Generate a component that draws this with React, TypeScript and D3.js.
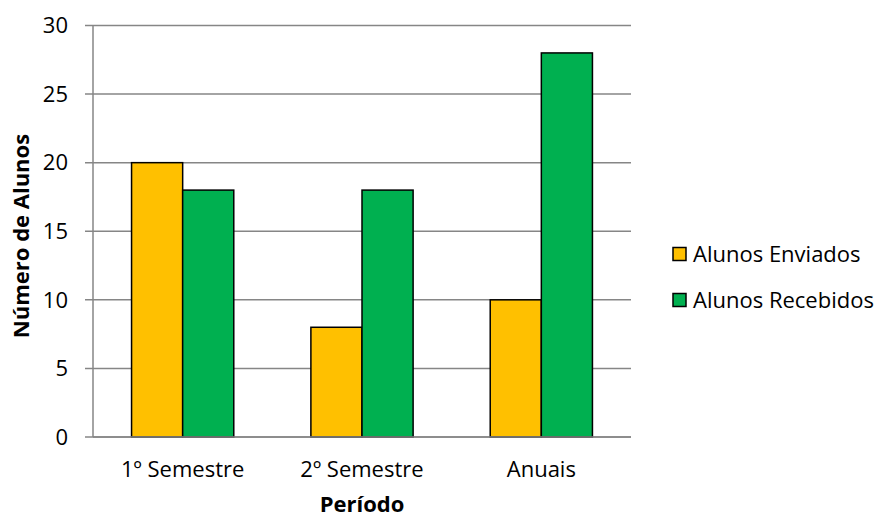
import React from "react";
import * as d3 from "d3";

const categories = ["1º Semestre", "2º Semestre", "Anuais"];
const seriesNames = ["Alunos Enviados", "Alunos Recebidos"];
const enviados = [20, 8, 10];
const recebidos = [18, 18, 28];
const yTicks = [0, 5, 10, 15, 20, 25, 30];
const colors = ["#FFC000", "#00B050"];

const W = 880;
const H = 519;
const left = 93;
const right = 631;
const top = 25.5;
const bottom = 437;
const FONT = "Open Sans, sans-serif";
const FS = 22;

export default function App() {
  const x = d3.scaleBand<string>().domain(categories).range([left, right]).paddingInner(0.43).paddingOuter(0.215);
  const xs = d3.scaleBand<string>().domain(seriesNames).range([0, x.bandwidth()]);
  const y = d3.scaleLinear().domain([0, 30]).range([bottom, top]);
  const data = [enviados, recebidos];

  return (
    <svg width={W} height={H} style={{ position: "absolute", left: 0, top: 0, background: "#fff" }} fontFamily={FONT}>
      {yTicks.map((t) => (
        <g key={t}>
          <line x1={85} x2={right} y1={y(t)} y2={y(t)} stroke="#868686" strokeWidth={1.5} />
          <text x={68} y={y(t)} dy="0.35em" textAnchor="end" fontSize={FS} fill="#000">
            {t}
          </text>
        </g>
      ))}
      <line x1={left} x2={left} y1={top} y2={bottom} stroke="#868686" strokeWidth={1.5} />
      {seriesNames.map((s, si) =>
        categories.map((c, ci) => (
          <rect
            key={s + c}
            x={(x(c) as number) + (xs(s) as number)}
            y={y(data[si][ci])}
            width={xs.bandwidth()}
            height={bottom - y(data[si][ci])}
            fill={colors[si]}
            stroke="#000"
            strokeWidth={1.5}
          />
        ))
      )}
      <line x1={left} x2={right} y1={bottom} y2={bottom} stroke="#868686" strokeWidth={1.5} />
      {categories.map((c) => (
        <text key={c} x={(x(c) as number) + x.bandwidth() / 2} y={477} textAnchor="middle" fontSize={FS}>
          {c}
        </text>
      ))}
      <text x={(left + right) / 2} y={512} textAnchor="middle" fontSize={FS} fontWeight="bold">
        Período
      </text>
      <text transform={`translate(29,236) rotate(-90)`} textAnchor="middle" fontSize={FS} fontWeight="bold">
        Número de Alunos
      </text>
      {seriesNames.map((s, i) => {
        const cy = 254 + i * 46;
        return (
          <g key={s}>
            <rect x={673} y={cy - 6.5} width={13} height={13} fill={colors[i]} stroke="#000" strokeWidth={1.5} />
            <text x={693} y={cy} dy="0.35em" fontSize={FS}>
              {s}
            </text>
          </g>
        );
      })}
    </svg>
  );
}
